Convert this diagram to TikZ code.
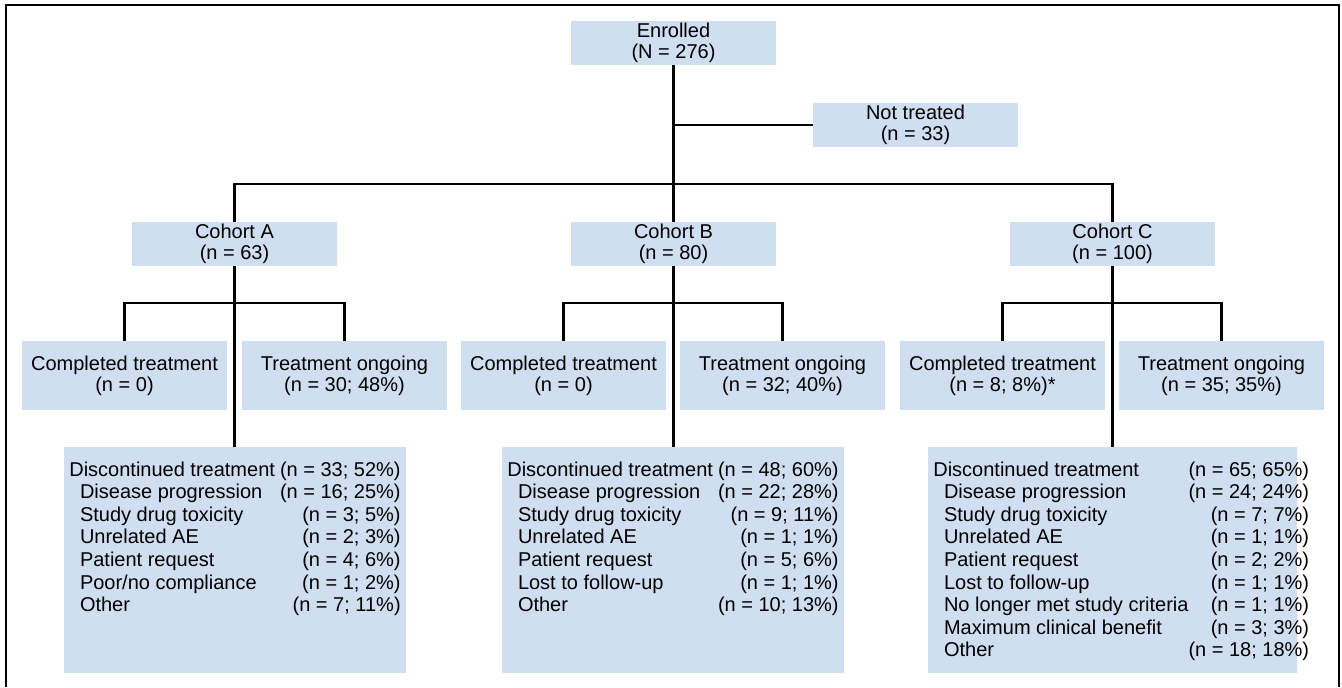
\documentclass[tikz,border=0pt]{standalone}
\usepackage{fontspec}
\setmainfont{Liberation Sans}
\definecolor{boxblue}{RGB}{207,222,240}

\tikzset{
  box/.style={fill=boxblue, inner sep=0pt, align=center, font=\fontsize{15}{16}\selectfont},
  headbox/.style={box, minimum width=153.75pt, minimum height=33pt},
  armbox/.style={box, minimum width=153.75pt, minimum height=51.75pt},
  reasonbox/.style={box, anchor=north, inner xsep=4pt, inner ysep=0pt, align=left},
  link/.style={line width=1.6pt}
}
\newcommand{\reasons}[2]{\begin{minipage}[t][169.5pt][t]{#1}\vspace{10pt}%
  \fontsize{15}{16.9}\selectfont
  \begin{tabular*}{\linewidth}{@{}l@{\extracolsep{\fill}}r@{}}#2\end{tabular*}\end{minipage}}
\newcommand{\ind}{\hspace*{8pt}}

\begin{document}
\begin{tikzpicture}[x=0.75pt,y=-0.75pt]
\useasboundingbox (0,0) rectangle (1342,687);
\draw[line width=1pt] (6,687) -- (6,5) -- (1339,5) -- (1339,687);

\node[headbox] (enrolled) at (673.5,43) {Enrolled\\(N = 276)};
\node[headbox] (nottreated) at (915.5,125) {Not treated\\(n = 33)};
\node[headbox] (cohA) at (234.5,244) {Cohort A\\(n = 63)};
\node[headbox] (cohB) at (673.5,244) {Cohort B\\(n = 80)};
\node[headbox] (cohC) at (1112.5,244) {Cohort C\\(n = 100)};

\node[armbox] (compA) at (124.5,375.5) {Completed treatment\\(n = 0)};
\node[armbox] (ongA) at (344.5,375.5) {Treatment ongoing\\(n = 30; 48\%)};
\node[armbox] (compB) at (563.5,375.5) {Completed treatment\\(n = 0)};
\node[armbox] (ongB) at (782.5,375.5) {Treatment ongoing\\(n = 32; 40\%)};
\node[armbox] (compC) at (1002.5,375.5) {Completed treatment\\(n = 8; 8\%)*};
\node[armbox] (ongC) at (1221.5,375.5) {Treatment ongoing\\(n = 35; 35\%)};

\node[reasonbox] (discA) at (235,447) {\reasons{248.5pt}{%
  Discontinued treatment & (n = 33; 52\%)\\
  \ind Disease progression & (n = 16; 25\%)\\
  \ind Study drug toxicity & (n = 3; 5\%)\\
  \ind Unrelated AE & (n = 2; 3\%)\\
  \ind Patient request & (n = 4; 6\%)\\
  \ind Poor/no compliance & (n = 1; 2\%)\\
  \ind Other & (n = 7; 11\%)}};
\node[reasonbox] (discB) at (673,447) {\reasons{248.5pt}{%
  Discontinued treatment & (n = 48; 60\%)\\
  \ind Disease progression & (n = 22; 28\%)\\
  \ind Study drug toxicity & (n = 9; 11\%)\\
  \ind Unrelated AE & (n = 1; 1\%)\\
  \ind Patient request & (n = 5; 6\%)\\
  \ind Lost to follow-up & (n = 1; 1\%)\\
  \ind Other & (n = 10; 13\%)}};
\node[reasonbox] (discC) at (1112.5,447) {\reasons{268.75pt}{%
  Discontinued treatment & (n = 65; 65\%)\\
  \ind Disease progression & (n = 24; 24\%)\\
  \ind Study drug toxicity & (n = 7; 7\%)\\
  \ind Unrelated AE & (n = 1; 1\%)\\
  \ind Patient request & (n = 2; 2\%)\\
  \ind Lost to follow-up & (n = 1; 1\%)\\
  \ind No longer met study criteria & (n = 1; 1\%)\\
  \ind Maximum clinical benefit & (n = 3; 3\%)\\
  \ind Other & (n = 18; 18\%)}};

\coordinate (split) at (673.5,184);
\coordinate (splitA) at (234.5,303);
\coordinate (splitB) at (673.5,303);
\coordinate (splitC) at (1112.5,303);

\draw[link] (enrolled.south) -- (cohB.north);
\draw[link] (enrolled.south |- nottreated.west) -- (nottreated.west);
\draw[link] (cohA.north) |- (split) -| (cohC.north);
\draw[link] (cohA.south) -- (cohA.south |- discA.north);
\draw[link] (compA.north) |- (splitA) -| (ongA.north);
\draw[link] (cohB.south) -- (cohB.south |- discB.north);
\draw[link] (compB.north) |- (splitB) -| (ongB.north);
\draw[link] (cohC.south) -- (cohC.south |- discC.north);
\draw[link] (compC.north) |- (splitC) -| (ongC.north);
\end{tikzpicture}
\end{document}
